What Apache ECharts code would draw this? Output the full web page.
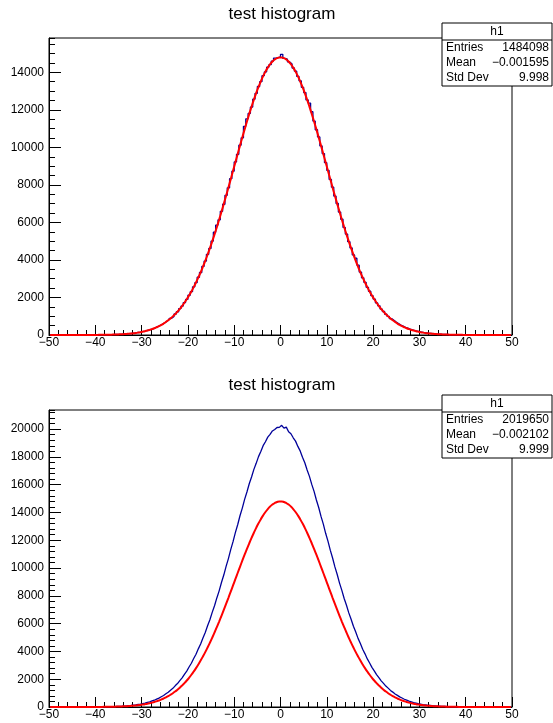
<!DOCTYPE html>
<html>
<head>
<meta charset="utf-8">
<script src="https://cdn.jsdelivr.net/npm/echarts@6/dist/echarts.min.js"></script>
<style>
  html, body { margin: 0; padding: 0; background: #fff; }
  #main { width: 553px; height: 723px; }
</style>
</head>
<body>
<div id="main"></div>
<script>
// bins: -50 .. 50, width 0.5
const binLow = -50
const binWidth = 0.5
const nBins = 200

// upper pad: h1, 1484098 entries
const histTop = [
  0, 0, 0, 1, 0, 0, 1, 0, 1, 0,
  1, 1, 2, 1, 2, 3, 2, 4, 3, 5,
  6, 7, 9, 10, 13, 14, 18, 20, 26, 31,
  36, 41, 52, 57, 71, 80, 98, 110, 134, 150,
  180, 202, 240, 271, 318, 356, 418, 468, 545, 606,
  698, 776, 889, 985, 1120, 1238, 1401, 1540, 1730, 1896,
  2118, 2309, 2566, 2790, 3078, 3330, 3655, 3940, 4300, 4612,
  5005, 5480, 5860, 6138, 6590, 6970, 7445, 7842, 8330, 8731,
  9225, 9630, 10120, 10510, 11120, 11520, 11810, 12150, 12570, 12880,
  13245, 13500, 13820, 14020, 14275, 14410, 14600, 14760, 14790, 14820,
  14960, 14740, 14700, 14555, 14450, 14230, 14060, 13780, 13545, 13200,
  12920, 12530, 12360, 11900, 11400, 10940, 10555, 10075, 9670, 9185,
  8770, 8290, 7880, 7405, 7010, 6550, 6170, 5735, 5380, 4975,
  4640, 4270, 4090, 3720, 3355, 3050, 2810, 2541, 2331, 2096,
  1914, 1710, 1556, 1383, 1252, 1106, 998, 876, 788, 687,
  615, 534, 476, 410, 365, 312, 277, 234, 208, 175,
  154, 129, 114, 94, 83, 68, 60, 49, 43, 34,
  29, 26, 20, 18, 13, 12, 9, 8, 6, 5,
  5, 3, 3, 2, 1, 2, 1, 1, 0, 1,
  0, 1, 0, 0, 0, 1, 0, 0, 0, 0
]

// lower pad: h1, 2019650 entries
const histBottom = [
  0, 0, 1, 0, 0, 1, 0, 1, 0, 1,
  1, 2, 1, 2, 3, 3, 4, 4, 6, 6,
  8, 9, 12, 13, 17, 19, 25, 29, 33, 41,
  49, 56, 70, 79, 97, 110, 133, 151, 181, 205,
  244, 276, 327, 370, 434, 488, 568, 639, 738, 826,
  950, 1058, 1210, 1342, 1524, 1688, 1901, 2098, 2352, 2585,
  2878, 3150, 3488, 3800, 4185, 4540, 4970, 5368, 5848, 6285,
  6810, 7290, 7852, 8360, 8960, 9498, 10125, 10685, 11330, 11900,
  12550, 13120, 13765, 14320, 14950, 15475, 16070, 16555, 17105, 17540,
  18025, 18390, 18810, 19095, 19430, 19625, 19870, 19975, 20120, 20130,
  20280, 20070, 20150, 19820, 19670, 19380, 19140, 18760, 18435, 17980,
  17580, 17060, 16600, 16025, 15520, 14900, 14360, 13720, 13160, 12505,
  11940, 11290, 10725, 10085, 9540, 8920, 8398, 7810, 7322, 6775,
  6320, 5815, 5400, 4940, 4568, 4155, 3826, 3462, 3170, 2855,
  2605, 2332, 2118, 1884, 1703, 1508, 1358, 1195, 1072, 936,
  836, 728, 648, 559, 496, 425, 376, 320, 282, 238,
  210, 176, 155, 128, 112, 93, 81, 67, 58, 47,
  39, 35, 27, 24, 19, 17, 12, 11, 8, 7,
  5, 6, 4, 3, 2, 2, 2, 1, 1, 0,
  0, 0, 1, 0, 0, 0, 1, 0, 0, 0
]

// red fit curve (same on both pads)
const fitCurve = [
  0, 0, 0, 0, 0, 0, 0, 0, 0, 0,
  1, 1, 1, 1, 2, 2, 2, 3, 4, 4,
  5, 7, 8, 10, 12, 14, 17, 21, 25, 30,
  35, 42, 50, 59, 69, 82, 96, 112, 131, 152,
  177, 205, 237, 274, 315, 361, 414, 472, 538, 611,
  692, 782, 882, 992, 1113, 1245, 1390, 1548, 1719, 1905,
  2105, 2320, 2552, 2799, 3063, 3343, 3640, 3952, 4282, 4627,
  4987, 5362, 5751, 6152, 6566, 6989, 7421, 7860, 8305, 8752,
  9201, 9648, 10093, 10531, 10961, 11380, 11785, 12174, 12545, 12895,
  13221, 13522, 13795, 14039, 14251, 14430, 14575, 14685, 14758, 14795,
  14795, 14758, 14685, 14575, 14430, 14251, 14039, 13795, 13522, 13221,
  12895, 12545, 12174, 11785, 11380, 10961, 10531, 10093, 9648, 9201,
  8752, 8305, 7860, 7421, 6989, 6566, 6152, 5751, 5362, 4987,
  4627, 4282, 3952, 3640, 3343, 3063, 2799, 2552, 2320, 2105,
  1905, 1719, 1548, 1390, 1245, 1113, 992, 882, 782, 692,
  611, 538, 472, 414, 361, 315, 274, 237, 205, 177,
  152, 131, 112, 96, 82, 69, 59, 50, 42, 35,
  30, 25, 21, 17, 14, 12, 10, 8, 7, 5,
  4, 4, 3, 2, 2, 2, 1, 1, 1, 1,
  0, 0, 0, 0, 0, 0, 0, 0, 0, 0
]

const statsTop = [['Entries', '1484098'], ['Mean', '\u22120.001595'], ['Std Dev', '9.998']]
const statsBottom = [['Entries', '2019650'], ['Mean', '\u22120.002102'], ['Std Dev', '9.999']]
const yMaxTop = 15830
const yMaxBottom = 21380

const centers = []
for (let i = 0; i < nBins; i++) centers.push(binLow + binWidth * (i + 0.5))
const pairs = (vals) => vals.map((v, i) => [centers[i], v])

const font = 'Liberation Sans, Arial, Helvetica, sans-serif'
const minus = (v) => String(v).replace('-', '\u2212')

const frameTops = [38, 410]
const frameH = 297

const makeX = (grid, major) => ({
  type: 'value', gridIndex: grid, min: -50, max: 50, position: 'bottom',
  interval: major ? 10 : 2,
  axisLine: { show: major, onZero: false, lineStyle: { color: '#000', width: 1 } },
  axisTick: { show: true, inside: true, length: major ? 10 : 5, lineStyle: { color: '#000' } },
  axisLabel: {
    show: major, margin: 2, color: '#000', fontSize: 12, fontFamily: font,
    formatter: minus
  },
  splitLine: { show: false }
})

const makeY = (grid, max, major, minorStep) => ({
  type: 'value', gridIndex: grid, min: 0, max: max, position: 'left',
  interval: major ? 2000 : minorStep,
  axisLine: { show: major, onZero: false, lineStyle: { color: '#000', width: 1 } },
  axisTick: { show: true, inside: true, length: major ? 12 : 6, lineStyle: { color: '#000' } },
  axisLabel: {
    show: major, showMaxLabel: false, margin: 5, color: '#000', fontSize: 12, fontFamily: font,
    formatter: (v) => String(v)
  },
  splitLine: { show: false }
})

const statsBox = (y, rows) => {
  const x = 442, w = 110, rowH = 15
  const els = [
    { type: 'rect', shape: { x: x, y: y, width: w, height: 63 },
      style: { fill: '#fff', stroke: '#000', lineWidth: 1 } },
    { type: 'line', shape: { x1: x, y1: y + 17, x2: x + w, y2: y + 17 },
      style: { stroke: '#000', lineWidth: 1 } },
    { type: 'text', style: { text: 'h1', x: x + w / 2, y: y + 9, align: 'center',
      verticalAlign: 'middle', font: '12px ' + font, fill: '#000' } }
  ]
  rows.forEach((r, i) => {
    const cy = y + 25 + i * rowH
    els.push({ type: 'text', style: { text: r[0], x: x + 4, y: cy, align: 'left',
      verticalAlign: 'middle', font: '12px ' + font, fill: '#000' } })
    els.push({ type: 'text', style: { text: r[1], x: x + w - 3, y: cy, align: 'right',
      verticalAlign: 'middle', font: '12px ' + font, fill: '#000' } })
  })
  return els
}

const title = (y) => ({
  type: 'text', style: { text: 'test histogram', x: 282, y: y, align: 'center',
    verticalAlign: 'middle', font: '17px ' + font, fill: '#000' }
})

const chart = echarts.init(document.getElementById('main'))
const option = {
  animation: false,
  backgroundColor: '#fff',
  grid: frameTops.map((t) => ({
    left: 49, right: 41, top: t, height: frameH,
    show: true, borderColor: '#000', borderWidth: 1, backgroundColor: 'transparent'
  })),
  xAxis: [makeX(0, true), makeX(0, false), makeX(1, true), makeX(1, false)],
  yAxis: [
    makeY(0, yMaxTop, true), makeY(0, yMaxTop, false, 500),
    makeY(1, yMaxBottom, true), makeY(1, yMaxBottom, false, 400)
  ],
  series: [
    { type: 'line', xAxisIndex: 0, yAxisIndex: 0, data: pairs(histTop), step: 'middle',
      showSymbol: false, lineStyle: { color: '#000099', width: 1.3 } },
    { type: 'line', xAxisIndex: 0, yAxisIndex: 0, data: pairs(fitCurve), smooth: true,
      showSymbol: false, lineStyle: { color: '#ff0000', width: 2 } },
    { type: 'line', xAxisIndex: 2, yAxisIndex: 2, data: pairs(histBottom),
      showSymbol: false, lineStyle: { color: '#000099', width: 1.3 } },
    { type: 'line', xAxisIndex: 2, yAxisIndex: 2, data: pairs(fitCurve), smooth: true,
      showSymbol: false, lineStyle: { color: '#ff0000', width: 2 } }
  ],
  graphic: [
    title(14), title(385),
    ...statsBox(23, statsTop),
    ...statsBox(395, statsBottom)
  ]
}
chart.setOption(option)
</script>
</body>
</html>
